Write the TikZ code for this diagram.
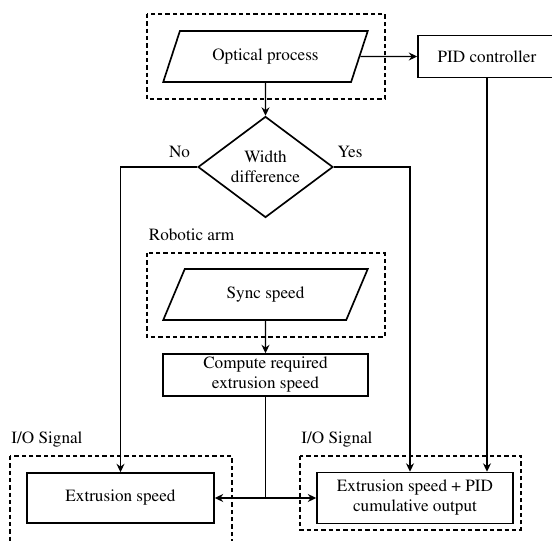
\documentclass[tikz,border=0pt]{standalone}
\usepackage[T1]{fontenc}
\usepackage{times}
\usetikzlibrary{arrows.meta,shapes.geometric}

\begin{document}
\begin{tikzpicture}[
    x=0.6pt, y=-0.6pt,
    font=\fontsize{10.3}{12}\selectfont,
    line width=0.85pt,
    block/.style={rectangle, draw, line width=1pt, align=center, inner sep=0pt},
    inout/.style={trapezium, draw, line width=1pt, trapezium left angle=56, trapezium right angle=124,
      trapezium stretches=true, minimum width=123pt, minimum height=30.6pt, inner sep=0pt},
    decision/.style={diamond, draw, line width=1pt, align=center, inner sep=0pt, minimum width=81pt, minimum height=60.6pt},
    group/.style={draw, line width=0.8pt, dash pattern=on 2.6pt off 1.8pt},
    flow/.style={-{Stealth[length=5pt, width=4.8pt]}}
  ]
  \useasboundingbox (0,0) rectangle (552,541);

  % Optical measurement
  \draw[group] (147,14) rectangle (385,99);
  \node[inout] (optical) at (265.5,56.5) {Optical process};
  \node[block, minimum width=82.8pt, minimum height=25.2pt] (pid) at (487,56.5) {PID controller};

  % Decision
  \node[decision] (width) at (265.5,167) {Width\\difference};
  \node (no) at (179.5,152) {No};
  \node (yes) at (350,152) {Yes};

  % Robotic arm
  \node (arm) at (191.5,235) {Robotic arm};
  \draw[group] (147,253) rectangle (385,337);
  \node[inout] (sync) at (265.5,294.5) {Sync speed};
  \node[block, minimum width=123pt, minimum height=25.2pt] (compute) at (265.5,375) {Compute required\\extrusion speed};

  % I/O signals
  \node (io1) at (47,440) {I/O Signal};
  \node (io2) at (337,440) {I/O Signal};
  \draw[group] (10,456) rectangle (232,550);
  \draw[group] (300,456) rectangle (521,530);
  \node[block, minimum width=112.2pt, minimum height=30pt] (ext) at (120.5,498) {Extrusion speed};
  \node[block, minimum width=117.6pt, minimum height=30.6pt] (out) at (415,498) {Extrusion speed + PID\\cumulative output};

  % Connections
  \draw[flow] (optical.east) -- (pid.west);
  \draw[flow] (optical.south) -- (width.north);
  \draw[flow] (width.west) -| (ext.north);
  \draw[flow] (width.east) -| ([xshift=-3pt]out.north);
  \draw[flow] (pid.south) -- (pid.south |- out.north);
  \draw[flow] (sync.south) -- (compute.north);
  \coordinate (split) at (compute.south |- ext.east);
  \draw (compute.south) -- (split);
  \draw[flow] (split) -- (ext.east);
  \draw[flow] (split) -- (out.west);
\end{tikzpicture}
\end{document}
